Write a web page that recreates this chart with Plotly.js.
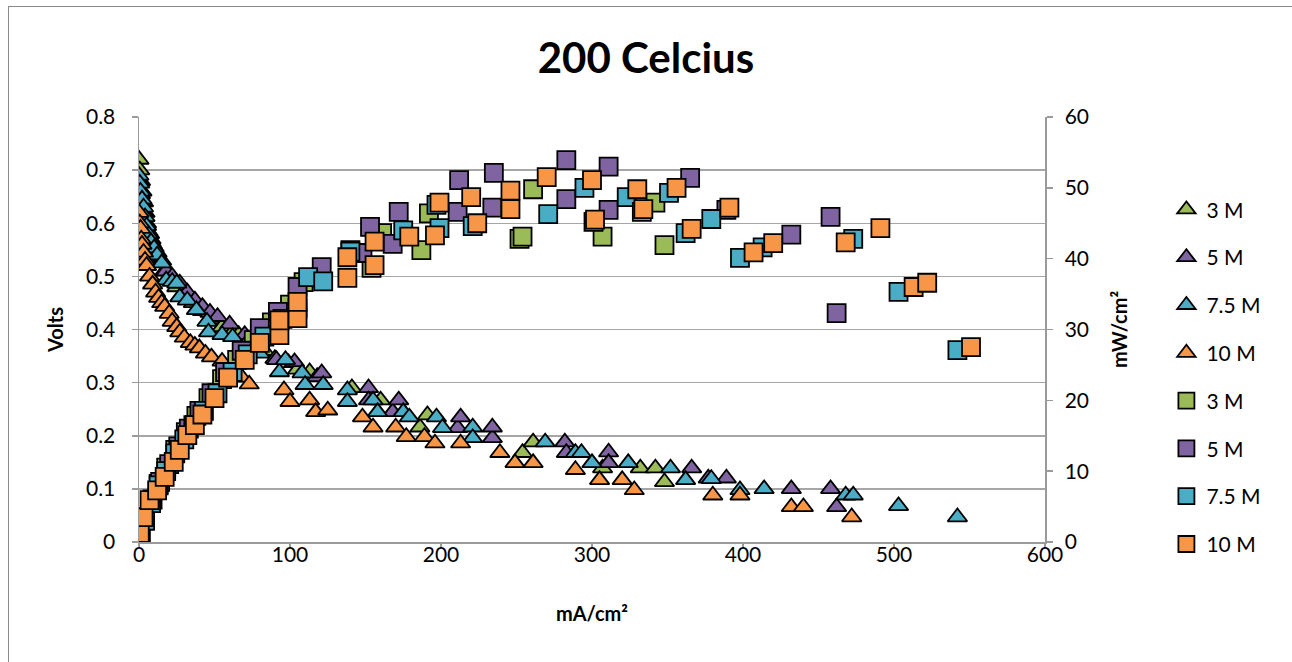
<!DOCTYPE html>
<html>
<head>
<meta charset="utf-8">
<script src="https://cdn.plot.ly/plotly-3.0.1.min.js"></script>
<style>
  html, body { margin: 0; padding: 0; background: #fff; }
  #wrap { position: relative; width: 1292px; height: 662px; overflow: hidden; }
  #chart { width: 1292px; height: 662px; }
  #frame { position: absolute; left: 8px; top: 6px; width: 1290px; height: 700px;
           border: 1px solid #8a8a8a; box-sizing: border-box; pointer-events: none; }
</style>
</head>
<body>
<div id="wrap">
  <div id="chart"></div>
  <div id="frame"></div>
</div>
<script>
// Concentration labels
const seriesNames = ['3 M', '5 M', '7.5 M', '10 M'];
const seriesColors = ['#9BBB59', '#8064A2', '#4BACC6', '#F79646'];

// Polarisation curves: current density (mA/cm²) and cell voltage (V)
const iV3 = [0, 0.5, 1, 2, 3, 4, 5, 7, 9, 11, 14, 17, 21, 25, 30, 36, 42, 48, 55, 62, 66, 75, 83, 90, 99, 105, 113, 141, 160, 186, 191, 254, 261, 307, 332, 342, 348];
const v3  = [0.72, 0.70, 0.68, 0.66, 0.64, 0.62, 0.60, 0.58, 0.56, 0.545, 0.53, 0.51, 0.495, 0.48, 0.465, 0.45, 0.435, 0.42, 0.405, 0.395, 0.39, 0.375, 0.36, 0.345, 0.337, 0.325, 0.32, 0.29, 0.267, 0.216, 0.239, 0.168, 0.188, 0.139, 0.139, 0.139, 0.113];

const iV5 = [0, 1, 2, 3, 4, 6, 8, 10, 12, 15, 18, 22, 27, 32, 37, 42, 47, 52, 60, 70, 80, 91, 103, 118, 121, 152, 152, 168, 172, 211, 213, 234, 234, 282, 283, 311, 311, 366, 377, 389, 432, 458, 462];
const v5  = [0.68, 0.655, 0.64, 0.62, 0.60, 0.585, 0.57, 0.555, 0.545, 0.53, 0.51, 0.50, 0.487, 0.47, 0.455, 0.443, 0.432, 0.424, 0.41, 0.39, 0.375, 0.343, 0.339, 0.311, 0.318, 0.29, 0.267, 0.245, 0.267, 0.215, 0.235, 0.196, 0.216, 0.188, 0.168, 0.169, 0.149, 0.139, 0.12, 0.12, 0.10, 0.10, 0.066];

const iV75 = [0, 0.5, 1, 2, 3, 4, 5, 6, 8, 10, 12, 15, 18, 22, 25, 27, 32, 38, 45, 46, 55, 62, 70, 80, 93, 97, 108, 110, 122, 138, 138, 155, 158, 175, 179, 197, 201, 221, 221, 269, 289, 293, 300, 324, 352, 362, 379, 398, 414, 468, 473, 503, 542];
const v75  = [0.69, 0.675, 0.66, 0.645, 0.63, 0.612, 0.595, 0.58, 0.565, 0.553, 0.54, 0.525, 0.493, 0.49, 0.487, 0.461, 0.455, 0.437, 0.415, 0.395, 0.39, 0.386, 0.37, 0.355, 0.32, 0.343, 0.318, 0.296, 0.296, 0.286, 0.264, 0.267, 0.245, 0.245, 0.235, 0.235, 0.215, 0.216, 0.196, 0.188, 0.168, 0.168, 0.149, 0.149, 0.139, 0.117, 0.119, 0.098, 0.10, 0.088, 0.088, 0.068, 0.047];

const iV10 = [0, 0.5, 1, 1.5, 2, 3, 4, 5, 7, 9, 11, 13, 15, 17, 20, 22, 25, 27, 30, 34, 37, 40, 44, 48, 55, 62, 68, 73, 96, 100, 113, 117, 125, 148, 155, 170, 177, 189, 196, 213, 239, 249, 261, 289, 305, 320, 328, 380, 398, 432, 440, 472];
const v10  = [0.62, 0.60, 0.59, 0.57, 0.56, 0.545, 0.53, 0.52, 0.50, 0.485, 0.47, 0.46, 0.45, 0.443, 0.43, 0.415, 0.405, 0.395, 0.385, 0.375, 0.37, 0.365, 0.355, 0.348, 0.34, 0.325, 0.31, 0.297, 0.286, 0.264, 0.267, 0.245, 0.248, 0.235, 0.216, 0.216, 0.198, 0.198, 0.186, 0.186, 0.168, 0.149, 0.149, 0.136, 0.117, 0.117, 0.098, 0.088, 0.088, 0.066, 0.066, 0.047];

// Power density curves: current density (mA/cm²) and power (mW/cm²)
const iP3 = [1, 4, 8, 13, 18, 24, 31, 38, 46, 55, 65, 76, 88, 100, 109, 140, 154, 161, 187, 192, 252, 254, 261, 307, 342, 348];
const p3  = [1.2, 3.3, 5.8, 8.2, 10.5, 13, 15.5, 17.8, 20.3, 23, 25.7, 28.5, 31, 33.5, 36.7, 41.2, 38.7, 43.6, 41.2, 46.4, 42.8, 43.1, 49.8, 43.1, 47.9, 41.9];

const iP5 = [1, 4, 9, 14, 20, 26, 33, 40, 48, 57, 68, 80, 92, 105, 121, 148, 153, 168, 172, 211, 212, 234, 235, 283, 283, 311, 311, 365, 389, 432, 458, 462];
const p5  = [1, 3.2, 6, 8.5, 11, 13.5, 16, 18.5, 21, 24, 27, 30.2, 32.5, 36, 38.8, 40.8, 44.5, 42.1, 46.6, 46.6, 51.1, 47.2, 52.1, 48.4, 53.9, 46.9, 53, 51.4, 46.9, 43.4, 45.9, 32.3];

const iP75 = [1, 4, 8, 13, 18, 24, 30, 36, 43, 52, 62, 72, 83, 95, 105, 112, 122, 140, 175, 197, 199, 221, 271, 295, 301, 323, 333, 351, 362, 379, 398, 413, 473, 503, 542];
const p75  = [1, 3, 5.5, 8, 10, 12.5, 14.5, 16.5, 18.5, 21, 24, 26.5, 29, 31.5, 33, 37.4, 36.8, 41, 44, 47.6, 44.3, 44.6, 46.3, 50, 45.2, 48.7, 46.6, 49.3, 43.6, 45.6, 40.1, 41.6, 42.8, 35.3, 27.1];

const iP10 = [0.5, 3, 7, 12, 17, 23, 27, 32, 37, 42, 50, 59, 70, 80, 93, 93, 105, 105, 138, 138, 156, 156, 179, 196, 199, 220, 224, 246, 246, 270, 300, 302, 330, 334, 356, 366, 391, 407, 420, 468, 491, 513, 522, 551];
const p10  = [1.3, 3.5, 5.9, 7.3, 9.2, 11.3, 13, 15.1, 16.5, 18, 20.3, 23.2, 25.7, 28.1, 29.2, 31.3, 31.6, 33.9, 37.3, 40.2, 39.1, 42.4, 43.1, 43.3, 47.9, 48.7, 45, 49.6, 47, 51.5, 51.1, 45.5, 49.8, 47, 50, 44.2, 47.2, 40.9, 42.2, 42.3, 44.3, 36, 36.6, 27.5];

const voltSets = [[iV3, v3], [iV5, v5], [iV75, v75], [iV10, v10]];
const powerSets = [[iP3, p3], [iP5, p5], [iP75, p75], [iP10, p10]];

const traces = [];
voltSets.forEach(([x, y], k) => {
  traces.push({
    type: 'scatter', mode: 'markers', x: x, y: y, yaxis: 'y',
    name: seriesNames[k], legendgroup: 'v' + k,
    marker: { symbol: 'triangle-up', size: 17, color: seriesColors[k],
              line: { color: '#000', width: 1.8 } }
  });
});
powerSets.forEach(([x, y], k) => {
  traces.push({
    type: 'scatter', mode: 'markers', x: x, y: y, yaxis: 'y2',
    name: seriesNames[k], legendgroup: 'p' + k,
    marker: { symbol: 'square', size: 18, color: seriesColors[k],
              line: { color: '#000', width: 1.8 } }
  });
});

const tickFont = { family: 'Lato, "Open Sans", sans-serif', size: 21, color: '#000' };
const axisTitleFont = { family: 'Lato, sans-serif', size: 20, color: '#000' };

const layout = {
  width: 1292, height: 662,
  margin: { l: 139, r: 247, t: 117, b: 120 },
  paper_bgcolor: '#fff', plot_bgcolor: '#fff',
  font: tickFont,
  showlegend: true,
  title: { text: '<b>200 Celcius</b>', x: 0.5, xanchor: 'center', y: 0.912, yanchor: 'middle',
           font: { family: 'Lato, sans-serif', size: 42, color: '#000' } },
  xaxis: {
    range: [0, 600], dtick: 100, tick0: 0,
    showgrid: false, zeroline: false,
    showline: true, linecolor: '#9a9a9a', linewidth: 1.5,
    ticks: 'outside', ticklen: 5, tickcolor: '#9a9a9a', tickwidth: 1.5,
    tickfont: tickFont, ticklabelstandoff: -12,
    title: { text: '<b>mA/cm²</b>', font: axisTitleFont, standoff: 42 }
  },
  yaxis: {
    range: [0, 0.8], dtick: 0.1, tick0: 0, tickformat: '.1~f',
    showgrid: true, gridcolor: '#a6a6a6', gridwidth: 1.5, zeroline: false,
    showline: true, linecolor: '#9a9a9a', linewidth: 1.5,
    ticks: 'outside', ticklen: 6, tickcolor: '#9a9a9a', tickwidth: 1.5,
    tickfont: tickFont, ticklabelstandoff: 12,
    title: { text: '<b>Volts</b>', font: axisTitleFont, standoff: 17 }
  },
  yaxis2: {
    range: [0, 60], dtick: 10, tick0: 0,
    overlaying: 'y', side: 'right',
    showgrid: false, zeroline: false,
    showline: true, linecolor: '#9a9a9a', linewidth: 1.5,
    ticks: 'outside', ticklen: 6, tickcolor: '#9a9a9a', tickwidth: 1.5,
    tickfont: tickFont, ticklabelstandoff: 8,
    title: { text: '<b>mW/cm²</b>', font: axisTitleFont, standoff: 25 }
  },
  legend: {
    x: 1.134, xanchor: 'left', y: 0.83, yanchor: 'top',
    orientation: 'v', traceorder: 'grouped', tracegroupgap: 17.5,
    font: tickFont, bgcolor: 'rgba(0,0,0,0)', itemwidth: 30
  }
};

Plotly.newPlot('chart', traces, layout, { staticPlot: true, displayModeBar: false });
</script>
</body>
</html>
